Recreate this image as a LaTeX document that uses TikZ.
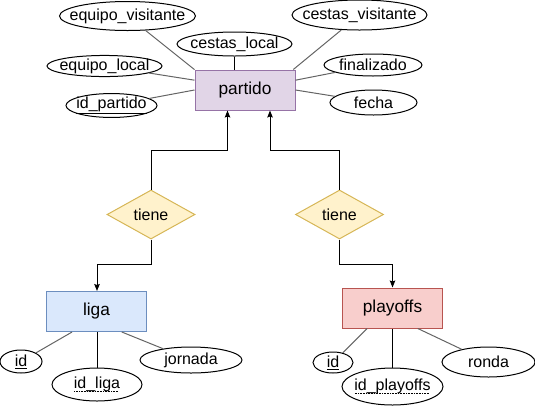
\documentclass[tikz,border=0pt]{standalone}
\usepackage{fontspec}
\setmainfont{Liberation Sans}
\usepackage{tikz}
\usetikzlibrary{arrows.meta,shapes.geometric,positioning}
\definecolor{MoradoEnt}{RGB}{225,213,231}
\definecolor{MoradoBorde}{RGB}{150,115,166}
\definecolor{AzulEnt}{RGB}{218,232,252}
\definecolor{AzulBorde}{RGB}{108,142,191}
\definecolor{RojoEnt}{RGB}{248,206,204}
\definecolor{RojoBorde}{RGB}{184,84,80}
\definecolor{AmarilloRel}{RGB}{255,242,204}
\definecolor{AmarilloBorde}{RGB}{214,182,86}
\definecolor{GrisLinea}{RGB}{100,100,100}
\newcommand{\clavedebil}[1]{\setbox0\hbox{#1}\rlap{\copy0}\raisebox{-3.2pt}{\hbox to \wd0{\leaders\hbox to 1.6pt{\hss\vrule height .8pt depth 0pt width .9pt\hss}\hfill}}}
\newcommand{\atxt}[1]{\makebox[0pt]{#1}}

\begin{document}
\begin{tikzpicture}[x=1pt,y=-1pt,line width=1pt,>={Stealth[length=7pt,width=5.5pt,inset=1pt]},
  atributo/.style={ellipse,draw,fill=white,inner sep=0pt,font=\fontsize{16}{19}\selectfont},
  entidad/.style={rectangle,draw,inner sep=0pt,minimum width=100pt,minimum height=40pt,font=\fontsize{17.3}{20}\selectfont},
  relacion/.style={diamond,draw=AmarilloBorde,fill=AmarilloRel,inner sep=0pt,minimum width=88pt,minimum height=49pt,font=\fontsize{16}{19}\selectfont},
  oblicua/.style={draw=GrisLinea}]
  \useasboundingbox (0,0) rectangle (535,408);
  % entidades
  \node[entidad,fill=MoradoEnt,draw=MoradoBorde] (partido) at (245,90) {partido};
  \node[entidad,fill=AzulEnt,draw=AzulBorde] (liga) at (96.5,311.5) {liga};
  \node[entidad,fill=RojoEnt,draw=RojoBorde] (playoffs) at (392.5,308) {playoffs};
  % relaciones
  \node[relacion] (tieneL) at (151,214.5) {tiene};
  \node[relacion] (tieneP) at (339.5,214.5) {tiene};
  % atributos de partido
  \node[atributo,minimum width=136pt,minimum height=29pt] (eqv) at (127.5,16) {\atxt{equipo\_visitante}};
  \node[atributo,minimum width=115pt,minimum height=24pt] (cesl) at (234.5,44) {\atxt{cestas\_local}};
  \node[atributo,minimum width=115pt,minimum height=20pt] (eql) at (104.5,66) {\atxt{equipo\_local}};
  \node[atributo,minimum width=91pt,minimum height=22pt] (idp) at (111.5,105.5) {\atxt{\underline{id\_partido}}};
  \node[atributo,minimum width=135pt,minimum height=30pt] (cesv) at (359.5,15) {\atxt{cestas\_visitante}};
  \node[atributo,minimum width=98pt,minimum height=22pt] (fin) at (373,65) {\atxt{finalizado}};
  \node[atributo,minimum width=87pt,minimum height=25pt] (fecha) at (373.5,102.5) {\atxt{fecha}};
  \draw[oblicua] (eqv) -- (partido.158);
  \draw (cesl) -- (cesl |- partido.north);
  \draw[oblicua] (eql) -- (partido.169);
  \draw[oblicua] (idp) -- (partido.west);
  \draw[oblicua] (cesv) -- (partido.23);
  \draw[oblicua] (fin) -- (partido.11);
  \draw[oblicua] (fecha) -- (partido.east);
  % atributos de liga
  \node[atributo,minimum width=42pt,minimum height=23pt] (idl) at (21,361.5) {\atxt{\underline{id}}};
  \node[atributo,minimum width=90pt,minimum height=33pt] (idliga) at (97,384.5) {\atxt{\clavedebil{id\_liga}}};
  \node[atributo,minimum width=102pt,minimum height=26pt] (jornada) at (191,360) {\atxt{jornada}};
  \draw[oblicua] (idl) -- (liga.220);
  \draw (idliga) -- (idliga |- liga.south);
  \draw[oblicua] (jornada) -- (liga.321);
  % atributos de playoffs
  \node[atributo,minimum width=40pt,minimum height=21pt] (idpo) at (333,362.5) {\atxt{\underline{id}}};
  \node[atributo,minimum width=101pt,minimum height=37pt] (idplayoffs) at (392.5,386.5) {\atxt{\clavedebil{id\_playoffs}}};
  \node[atributo,minimum width=93pt,minimum height=30pt] (ronda) at (488.5,362) {\atxt{ronda}};
  \draw[oblicua] (idpo) -- (playoffs.219);
  \draw (idplayoffs) -- (idplayoffs |- playoffs.south);
  \draw[oblicua] (ronda) -- (playoffs.321);
  % conectores de las relaciones
  \coordinate (codoL) at (227.5,150);
  \coordinate (codoP) at (270,150);
  \coordinate (bajoL) at (97,264);
  \coordinate (bajoP) at (392.5,264);
  \draw[->] (tieneL.north) |- (codoL) -- (codoL |- partido.south);
  \draw[->] (tieneP.north) |- (codoP) -- (codoP |- partido.south);
  \draw[->] (tieneL.south) |- (bajoL) -- (bajoL |- liga.north);
  \draw[->] (tieneP.south) |- (bajoP) -- (bajoP |- playoffs.north);
\end{tikzpicture}
\end{document}
